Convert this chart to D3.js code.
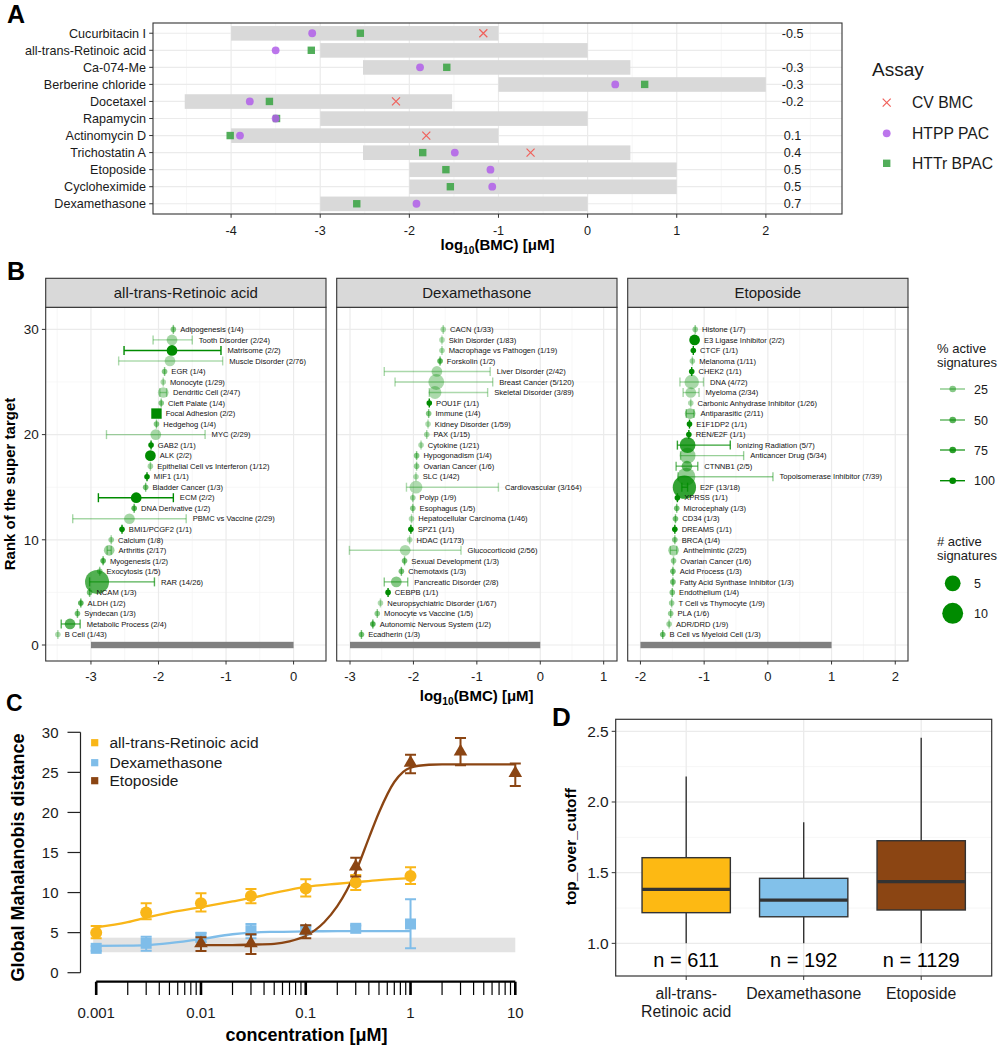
<!DOCTYPE html>
<html><head><meta charset="utf-8">
<script src="https://cdn.jsdelivr.net/npm/d3@7"></script>
<style>body{margin:0;background:#fff}svg{display:block}text{font-family:"Liberation Sans",Arial,sans-serif}</style>
</head><body><svg id="c" width="1002" height="1050"></svg>
<script>
// ---------------- DATA ----------------
// Panel A
const aCompounds = ["Cucurbitacin I","all-trans-Retinoic acid","Ca-074-Me","Berberine chloride","Docetaxel","Rapamycin","Actinomycin D","Trichostatin A","Etoposide","Cycloheximide","Dexamethasone"];
const aRangeLo = [-4,-3,-2.52,-1,-4.52,-3,-4,-2.52,-2,-2,-3];
const aRangeHi = [-1,0,0.48,2,-1.52,0,-1,0.48,1,1,0];
const aCV   = [-1.17,null,null,null,-2.15,null,-1.81,-0.64,null,null,null];
const aHTPP = [-3.09,-3.50,-1.88,0.31,-3.79,-3.50,-3.90,-1.49,-1.09,-1.07,-1.92];
const aHTTr = [-2.55,-3.10,-1.58,0.64,-3.57,-3.49,-4.01,-1.85,-1.59,-1.54,-2.59];
const aCorr = ["-0.5","","-0.3","-0.3","-0.2","","0.1","0.4","0.5","0.5","0.7"];
const aAssays = ["CV BMC","HTPP PAC","HTTr BPAC"];
const aTicks = [-4,-3,-2,-1,0,1,2];

// Panel B
const bFacets = ["all-trans-Retinoic acid","Dexamethasone","Etoposide"];
const bRefLo = [-3,-3,-2];
const bRefHi = [0,0,1];
const atraTargets = ["Adipogenesis","Tooth Disorder","Matrisome","Muscle Disorder","EGR","Monocyte","Dendritic Cell","Cleft Palate","Focal Adhesion","Hedgehog","MYC","GAB2","ALK","Epithelial Cell vs Interferon","MIF1","Bladder Cancer","ECM","DNA Derivative","PBMC vs Vaccine","BMI1/PCGF2","Calcium","Arthritis","Myogenesis","Exocytosis","RAR","NCAM","ALDH","Syndecan","Metabolic Process","B Cell"];
const atraActive = [1,2,2,2,1,1,2,1,2,1,2,1,2,1,1,1,2,1,2,1,1,2,1,1,14,1,1,1,2,1];
const atraTotal  = [4,24,2,76,4,29,47,4,2,4,29,1,2,12,1,3,2,2,29,1,8,17,2,5,26,3,2,3,4,43];
const atraBMC = [-1.78,-1.80,-1.80,-1.83,-1.91,-1.93,-1.93,-1.96,-2.03,-2.03,-2.04,-2.11,-2.12,-2.12,-2.17,-2.19,-2.33,-2.36,-2.43,-2.54,-2.70,-2.73,-2.82,-2.87,-2.91,-3.02,-3.15,-3.20,-3.31,-3.49];
const atraLo  = [-1.78,-2.08,-2.51,-2.59,-1.91,-1.93,-1.98,-1.96,-2.03,-2.03,-2.77,-2.11,-2.12,-2.12,-2.17,-2.19,-2.89,-2.36,-3.27,-2.54,-2.70,-2.76,-2.82,-2.87,-3.02,-3.02,-3.15,-3.20,-3.44,-3.49];
const atraHi  = [-1.78,-1.50,-1.075,-1.05,-1.91,-1.93,-1.88,-1.96,-2.03,-2.03,-1.31,-2.11,-2.12,-2.12,-2.17,-2.19,-1.78,-2.36,-1.59,-2.54,-2.70,-2.70,-2.82,-2.87,-2.06,-3.02,-3.15,-3.20,-3.16,-3.49];
const atraSquare = ["Focal Adhesion"];

const dexTargets = ["CACN","Skin Disorder","Macrophage vs Pathogen","Forskolin","Liver Disorder","Breast Cancer","Skeletal Disorder","POU1F","Immune","Kidney Disorder","PAX","Cytokine","Hypogonadism","Ovarian Cancer","SLC","Cardiovascular","Polyp","Esophagus","Hepatocellular Carcinoma","SPZ1","HDAC","Glucocorticoid","Sexual Development","Chemotaxis","Pancreatic Disorder","CEBPB","Neuropsychiatric Disorder","Monocyte vs Vaccine","Autonomic Nervous System","Ecadherin"];
const dexActive = [1,1,1,1,2,5,3,1,1,1,1,1,1,1,1,3,1,1,1,1,1,2,1,1,2,1,1,1,1,1];
const dexTotal  = [33,83,19,2,42,120,89,1,4,59,15,21,4,6,42,164,9,5,46,1,173,56,3,3,8,1,67,5,2,3];
const dexBMC = [-1.53,-1.55,-1.55,-1.58,-1.63,-1.64,-1.66,-1.75,-1.76,-1.77,-1.79,-1.88,-1.95,-1.95,-1.96,-1.96,-2.01,-2.01,-2.03,-2.04,-2.06,-2.13,-2.14,-2.19,-2.27,-2.40,-2.52,-2.57,-2.64,-2.82];
const dexLo  = [-1.53,-1.55,-1.55,-1.58,-2.46,-2.29,-1.75,-1.75,-1.76,-1.77,-1.79,-1.88,-1.95,-1.95,-1.96,-2.11,-2.01,-2.01,-2.03,-2.04,-2.06,-3.01,-2.14,-2.19,-2.46,-2.40,-2.52,-2.57,-2.64,-2.82];
const dexHi  = [-1.53,-1.55,-1.55,-1.58,-0.79,-0.75,-0.83,-1.75,-1.76,-1.77,-1.79,-1.88,-1.95,-1.95,-1.96,-0.66,-2.01,-2.01,-2.03,-2.04,-2.06,-1.25,-2.14,-2.19,-2.09,-2.40,-2.52,-2.57,-2.64,-2.82];

const etoTargets = ["Histone","E3 Ligase Inhibitor","CTCF","Melanoma","CHEK2","DNA","Myeloma","Carbonic Anhydrase Inhibitor","Antiparasitic","E1F1DP2","REN/E2F","Ionizing Radiation","Anticancer Drug","CTNNB1","Topoisomerase Inhibitor","E2F","XPRSS","Microcephaly","CD34","DREAMS","BRCA","Anthelmintic","Ovarian Cancer","Acid Process","Fatty Acid Synthase Inhibitor","Endothelium","T Cell vs Thymocyte","PLA","ADR/DRD","B Cell vs Myeloid Cell"];
const etoActive = [1,2,1,1,1,4,2,1,2,1,1,5,5,2,7,13,1,1,1,1,1,2,1,1,1,1,1,1,1,1];
const etoTotal  = [7,2,1,11,1,72,34,26,11,1,1,7,34,5,39,18,1,3,3,1,4,25,6,3,3,4,9,6,9,3];
const etoBMC = [-1.14,-1.15,-1.17,-1.185,-1.195,-1.195,-1.21,-1.21,-1.22,-1.23,-1.24,-1.26,-1.26,-1.27,-1.28,-1.31,-1.42,-1.43,-1.45,-1.46,-1.46,-1.48,-1.48,-1.49,-1.49,-1.50,-1.51,-1.525,-1.55,-1.65];
const etoLo  = [-1.14,-1.15,-1.17,-1.185,-1.195,-1.38,-1.33,-1.21,-1.28,-1.23,-1.24,-1.42,-1.37,-1.44,-1.41,-1.35,-1.42,-1.43,-1.45,-1.46,-1.46,-1.53,-1.48,-1.49,-1.49,-1.50,-1.51,-1.525,-1.55,-1.65];
const etoHi  = [-1.14,-1.15,-1.17,-1.185,-1.195,-1.01,-1.08,-1.21,-1.16,-1.23,-1.24,-0.59,-0.38,-1.10,0.08,-1.26,-1.42,-1.43,-1.45,-1.46,-1.46,-1.43,-1.48,-1.49,-1.49,-1.50,-1.51,-1.525,-1.55,-1.65];
const bPctLegend = [25,50,75,100];
const bNLegend = [5,10];

// Panel C
const cSeries = ["all-trans-Retinoic acid","Dexamethasone","Etoposide"];
const cAtraConc = [0.001,0.003,0.01,0.03,0.1,0.3,1];
const cAtraMean = [5.0,7.5,8.67,9.58,10.5,11.25,12.08];
const cAtraLo   = [4.29,6.67,7.63,8.67,9.5,10.33,11.08];
const cAtraHi   = [5.83,8.67,9.92,10.46,11.67,12.2,13.17];
const cDexConc = [0.001,0.003,0.01,0.03,0.1,0.3,1];
const cDexMean = [3.04,3.67,4.42,5.24,5.33,5.54,6.08];
const cDexLo   = [2.75,2.75,3.83,4.29,4.9,5.2,3.04];
const cDexHi   = [3.3,4.5,4.95,6.08,5.8,5.9,9.16];
const cEtoConc = [0.01,0.03,0.1,0.3,1,3,10];
const cEtoMean = [3.67,3.67,5.24,13.23,26.2,27.6,24.9];
const cEtoLo   = [2.71,2.33,4.29,11.99,24.9,25.9,23.3];
const cEtoHi   = [4.42,4.79,5.91,14.36,27.2,29.3,26.1];
const cAtraFitConc = [0.001,0.002,0.003,0.005,0.01,0.02,0.03,0.05,0.1,0.2,0.3,0.5,1];
const cAtraFit     = [5.67,6.3,6.87,7.5,8.17,8.9,9.33,9.95,10.7,11.1,11.3,11.55,11.8];
const cDexFitConc = [0.001,0.002,0.003,0.005,0.01,0.02,0.03,0.05,0.1,0.2,0.3,0.5,1];
const cDexFit     = [3.35,3.38,3.45,3.7,4.2,4.8,5.0,5.1,5.15,5.2,5.2,5.2,5.2];
const cEtoFitConc = [0.01,0.02,0.03,0.05,0.07,0.1,0.15,0.2,0.3,0.4,0.5,0.7,1,1.5,2,3,5,10];
const cEtoFit     = [3.45,3.45,3.5,3.6,3.9,4.6,6.3,8.3,12.6,16.8,20.0,23.8,25.6,25.95,26,26,26,26];
const cBandLo = 2.55, cBandHi = 4.37;
const cYTicks = [0,5,10,15,20,25,30];
const cXLabels = [0.001,0.01,0.1,1,10];

// Panel D
const dCategories = ["all-trans-Retinoic acid","Dexamethasone","Etoposide"];
const dLabelLines = [["all-trans-","Retinoic acid"],["Dexamethasone"],["Etoposide"]];
const dWhiskerLo = [1.0,1.0,1.0];
const dQ1 = [1.217,1.188,1.236];
const dMedian = [1.382,1.306,1.436];
const dQ3 = [1.606,1.46,1.726];
const dWhiskerHi = [2.18,1.856,2.455];
const dN = [611,192,1129];
const dYTicks = [1.0,1.5,2.0,2.5];

// ---------------- DRAW ----------------
const svg = d3.select("#c");
const TXT = "#1a1a1a", AX = "#333", GRID = "#ebebeb", GRIDM = "#f4f4f4";

function panelLetter(t, x, y, size) {
  svg.append("text").attr("x", x).attr("y", y).attr("font-size", size).attr("font-weight", "bold").attr("fill", "#000").text(t);
}
function logTitle(g, x, y, size) {
  const t = g.append("text").attr("x", x).attr("y", y).attr("text-anchor", "middle")
    .attr("font-size", size).attr("font-weight", "bold").attr("fill", "#000");
  t.append("tspan").text("log");
  t.append("tspan").attr("font-size", size * 0.68).attr("dy", 4).text("10");
  t.append("tspan").attr("dy", -4).text("(BMC) [μM]");
}

// ===== Panel A =====
panelLetter("A", 7, 23, 25);
const gA = svg.append("g");
const aL = 153, aR = 842, aT = 23, aB = 214;
const aX = d3.scaleLinear().domain([-4.876, 2.854]).range([aL, aR]);
const aY = d3.scalePoint().domain(aCompounds).range([aT, aB]).padding(0.6);
gA.append("rect").attr("x", aL).attr("y", aT).attr("width", aR - aL).attr("height", aB - aT).attr("fill", "#fff");
gA.selectAll(".amin").data(d3.range(-4.5, 3, 1)).join("line")
  .attr("x1", d => aX(d)).attr("x2", d => aX(d)).attr("y1", aT).attr("y2", aB).attr("stroke", GRIDM).attr("stroke-width", 0.7);
gA.selectAll(".amaj").data(aTicks).join("line")
  .attr("x1", d => aX(d)).attr("x2", d => aX(d)).attr("y1", aT).attr("y2", aB).attr("stroke", GRID).attr("stroke-width", 1.2);
gA.selectAll(".arow").data(aCompounds).join("line")
  .attr("x1", aL).attr("x2", aR).attr("y1", d => aY(d)).attr("y2", d => aY(d)).attr("stroke", GRID).attr("stroke-width", 1.2);
gA.selectAll(".abar").data(aCompounds).join("rect")
  .attr("x", (d, i) => aX(aRangeLo[i])).attr("width", (d, i) => aX(aRangeHi[i]) - aX(aRangeLo[i]))
  .attr("y", d => aY(d) - 7.2).attr("height", 14.6).attr("fill", "#d9d9d9");
const colCV = "#f0605a", colHTPP = "#b05ee9", colHTTr = "#3fa548";
gA.selectAll(".asq").data(aCompounds).join("rect")
  .attr("x", (d, i) => aX(aHTTr[i]) - 3.7).attr("y", d => aY(d) - 3.7).attr("width", 7.4).attr("height", 7.4)
  .attr("fill", colHTTr).attr("fill-opacity", 0.9);
gA.selectAll(".aci").data(aCompounds).join("circle")
  .attr("cx", (d, i) => aX(aHTPP[i])).attr("cy", d => aY(d)).attr("r", 3.9)
  .attr("fill", colHTPP).attr("fill-opacity", 0.85);
aCompounds.forEach((c, i) => {
  if (aCV[i] == null) return;
  const x = aX(aCV[i]), y = aY(c), s = 4;
  gA.append("path").attr("d", `M${x - s},${y - s}L${x + s},${y + s}M${x - s},${y + s}L${x + s},${y - s}`)
    .attr("stroke", colCV).attr("stroke-width", 1.2).attr("fill", "none");
});
gA.selectAll(".acorr").data(aCompounds).join("text")
  .attr("x", aX(2.3)).attr("y", d => aY(d) + 4.5).attr("text-anchor", "middle")
  .attr("font-size", 12.6).attr("fill", TXT).text((d, i) => aCorr[i]);
gA.append("rect").attr("x", aL).attr("y", aT).attr("width", aR - aL).attr("height", aB - aT)
  .attr("fill", "none").attr("stroke", AX).attr("stroke-width", 1.1);
gA.selectAll(".ayt").data(aCompounds).join("line")
  .attr("x1", aL - 3.8).attr("x2", aL).attr("y1", d => aY(d)).attr("y2", d => aY(d)).attr("stroke", AX);
gA.selectAll(".ayl").data(aCompounds).join("text")
  .attr("x", aL - 7).attr("y", d => aY(d) + 4.4).attr("text-anchor", "end").attr("font-size", 12.6).attr("fill", TXT).text(d => d);
gA.selectAll(".axt").data(aTicks).join("line")
  .attr("x1", d => aX(d)).attr("x2", d => aX(d)).attr("y1", aB).attr("y2", aB + 3.8).attr("stroke", AX);
gA.selectAll(".axl").data(aTicks).join("text")
  .attr("x", d => aX(d)).attr("y", 234.5).attr("text-anchor", "middle").attr("font-size", 12.6).attr("fill", TXT).text(d => d);
logTitle(gA, (aL + aR) / 2, 250, 15);
gA.append("text").attr("x", 872).attr("y", 76).attr("font-size", 19).attr("fill", TXT).text("Assay");
const aLegY = [102.7, 133.3, 163.3];
aAssays.forEach((a, i) => {
  const y = aLegY[i], x = 886.7;
  if (i === 0) gA.append("path").attr("d", `M${x - 4},${y - 4}L${x + 4},${y + 4}M${x - 4},${y + 4}L${x + 4},${y - 4}`).attr("stroke", colCV).attr("stroke-width", 1.2);
  if (i === 1) gA.append("circle").attr("cx", x).attr("cy", y).attr("r", 3.9).attr("fill", colHTPP).attr("fill-opacity", 0.85);
  if (i === 2) gA.append("rect").attr("x", x - 3.7).attr("y", y - 3.7).attr("width", 7.4).attr("height", 7.4).attr("fill", colHTTr).attr("fill-opacity", 0.9);
  gA.append("text").attr("x", 912).attr("y", y + 5.6).attr("font-size", 15.7).attr("fill", TXT).text(a);
});

// ===== Panel B =====
panelLetter("B", 7, 280, 25);
const gB = svg.append("g");
const bTop = 307.3, bBot = 661, sTop = 278.3;
const bLefts = [45.7, 336.7, 627.7], bW = 280.3;
const bDomains = [[-3.67, 0.48], [-3.21, 1.21], [-2.2, 2.2]];
const bY = d3.scaleLinear().domain([-1.52, 32.1]).range([bBot, bTop]);
const GREEN = "#008B00";
const sizeScale = d3.scaleLinear().domain([0, 1]).range([2.8, 12]);
const rOf = n => sizeScale(Math.sqrt((n - 1) / 13));
const alphaScale = d3.scaleLinear().domain([0, 1]).range([0.3, 1]);
const bSets = [
  {t: atraTargets, a: atraActive, n: atraTotal, x: atraBMC, lo: atraLo, hi: atraHi},
  {t: dexTargets, a: dexActive, n: dexTotal, x: dexBMC, lo: dexLo, hi: dexHi},
  {t: etoTargets, a: etoActive, n: etoTotal, x: etoBMC, lo: etoLo, hi: etoHi}
];
bFacets.forEach((f, k) => {
  const L = bLefts[k], R = L + bW;
  const x = d3.scaleLinear().domain(bDomains[k]).range([L, R]);
  const g = gB.append("g");
  g.append("rect").attr("x", L).attr("y", bTop).attr("width", bW).attr("height", bBot - bTop).attr("fill", "#fff");
  const dom = bDomains[k];
  const majX = d3.range(Math.ceil(dom[0]), Math.floor(dom[1]) + 1);
  const minX = d3.range(Math.ceil(dom[0] - 0.5) + 0.5, dom[1], 1);
  g.selectAll(".mnx").data(minX).join("line").attr("x1", d => x(d)).attr("x2", d => x(d)).attr("y1", bTop).attr("y2", bBot).attr("stroke", GRIDM).attr("stroke-width", 0.7);
  g.selectAll(".mny").data([5, 15, 25]).join("line").attr("x1", L).attr("x2", R).attr("y1", d => bY(d)).attr("y2", d => bY(d)).attr("stroke", GRIDM).attr("stroke-width", 0.7);
  g.selectAll(".mjx").data(majX).join("line").attr("x1", d => x(d)).attr("x2", d => x(d)).attr("y1", bTop).attr("y2", bBot).attr("stroke", GRID).attr("stroke-width", 1.2);
  g.selectAll(".mjy").data([0, 10, 20, 30]).join("line").attr("x1", L).attr("x2", R).attr("y1", d => bY(d)).attr("y2", d => bY(d)).attr("stroke", GRID).attr("stroke-width", 1.2);
  g.append("rect").attr("x", x(bRefLo[k])).attr("width", x(bRefHi[k]) - x(bRefLo[k]))
    .attr("y", bY(0) - 3.2).attr("height", 6.4).attr("fill", "#808080");
  const s = bSets[k];
  const N = s.t.length;
  s.t.forEach((name, i) => {
    const rank = N - i;
    const y = bY(rank);
    const frac = s.a[i] / s.n[i];
    const al = alphaScale(frac);
    const xp = x(s.x[i]), xl = x(s.lo[i]), xh = x(s.hi[i]);
    const r = rOf(s.a[i]);
    const eg = g.append("g").attr("stroke", GREEN).attr("stroke-opacity", al).attr("stroke-width", 1.4);
    if (xh - xl > 0.5) eg.append("line").attr("x1", xl).attr("x2", xh).attr("y1", y).attr("y2", y);
    eg.append("line").attr("x1", xl).attr("x2", xl).attr("y1", y - 4.5).attr("y2", y + 4.5);
    if (xh - xl > 0.5) eg.append("line").attr("x1", xh).attr("x2", xh).attr("y1", y - 4.5).attr("y2", y + 4.5);
    const isSq = k === 0 && atraSquare.includes(name);
    if (isSq) {
      g.append("rect").attr("x", xp - 5.2).attr("y", y - 5.2).attr("width", 10.4).attr("height", 10.4).attr("fill", GREEN).attr("fill-opacity", al);
    } else {
      g.append("circle").attr("cx", xp).attr("cy", y).attr("r", r).attr("fill", GREEN).attr("fill-opacity", al);
    }
    const lx = Math.max(xh + 6.5, xp + (isSq ? 5.2 : r) + 4);
    g.append("text").attr("x", lx).attr("y", y + 2.7).attr("font-size", 7.6).attr("fill", "#111")
      .text(`${name} (${s.a[i]}/${s.n[i]})`);
  });
  g.append("rect").attr("x", L).attr("y", bTop).attr("width", bW).attr("height", bBot - bTop).attr("fill", "none").attr("stroke", AX).attr("stroke-width", 1.1);
  g.append("rect").attr("x", L).attr("y", sTop).attr("width", bW).attr("height", bTop - sTop).attr("fill", "#d9d9d9").attr("stroke", AX).attr("stroke-width", 1.1);
  g.append("text").attr("x", L + bW / 2).attr("y", (sTop + bTop) / 2 + 5.3).attr("text-anchor", "middle").attr("font-size", 15).attr("fill", TXT).text(f);
  g.selectAll(".xt").data(majX).join("line").attr("x1", d => x(d)).attr("x2", d => x(d)).attr("y1", bBot).attr("y2", bBot + 3.5).attr("stroke", AX);
  g.selectAll(".xl").data(majX).join("text").attr("x", d => x(d)).attr("y", 681.3).attr("text-anchor", "middle").attr("font-size", 13).attr("fill", TXT).text(d => d);
  if (k === 0) {
    g.selectAll(".yt").data([0, 10, 20, 30]).join("line").attr("x1", L - 3.8).attr("x2", L).attr("y1", d => bY(d)).attr("y2", d => bY(d)).attr("stroke", AX);
    g.selectAll(".yl").data([0, 10, 20, 30]).join("text").attr("x", L - 7).attr("y", d => bY(d) + 4.8).attr("text-anchor", "end").attr("font-size", 13.5).attr("fill", TXT).text(d => d);
  }
});
gB.append("text").attr("transform", "translate(15,484) rotate(-90)").attr("text-anchor", "middle")
  .attr("font-size", 15).attr("font-weight", "bold").attr("fill", "#000").text("Rank of the super target");
logTitle(gB, 476.7, 701, 15);
const lg = gB.append("g");
lg.append("text").attr("x", 937).attr("y", 352.8).attr("font-size", 13).attr("fill", TXT).text("% active");
lg.append("text").attr("x", 937).attr("y", 366.5).attr("font-size", 13).attr("fill", TXT).text("signatures");
const pctY = [389, 420, 450, 480.7];
bPctLegend.forEach((p, i) => {
  const al = alphaScale(p / 100);
  lg.append("line").attr("x1", 940).attr("x2", 965).attr("y1", pctY[i]).attr("y2", pctY[i]).attr("stroke", GREEN).attr("stroke-opacity", al).attr("stroke-width", 1.4);
  lg.append("circle").attr("cx", 952.7).attr("cy", pctY[i]).attr("r", 3.3).attr("fill", GREEN).attr("fill-opacity", al);
  lg.append("text").attr("x", 974).attr("y", pctY[i] + 4.5).attr("font-size", 12.5).attr("fill", TXT).text(p);
});
lg.append("text").attr("x", 937).attr("y", 546.3).attr("font-size", 13).attr("fill", TXT).text("# active");
lg.append("text").attr("x", 937).attr("y", 560).attr("font-size", 13).attr("fill", TXT).text("signatures");
const nY = [583.3, 613.3];
bNLegend.forEach((n, i) => {
  lg.append("circle").attr("cx", 952.7).attr("cy", nY[i]).attr("r", rOf(n)).attr("fill", GREEN);
  lg.append("text").attr("x", 974).attr("y", nY[i] + 4.5).attr("font-size", 12.5).attr("fill", TXT).text(n);
});

// ===== Panel C =====
panelLetter("C", 6, 711, 23);
const gC = svg.append("g");
const cX = d3.scaleLog().domain([0.001, 10]).range([96.2, 515.3]);
const cY = d3.scaleLinear().domain([0, 30]).range([972.7, 732.3]);
const cCol = ["#f9b618", "#7fbde9", "#8b4513"];
gC.append("rect").attr("x", cX(0.001) - 3).attr("width", cX(10) - cX(0.001) + 3)
  .attr("y", cY(cBandHi)).attr("height", cY(cBandLo) - cY(cBandHi)).attr("fill", "#e3e3e3");
gC.append("line").attr("x1", 80.5).attr("x2", 80.5).attr("y1", cY(0)).attr("y2", cY(30)).attr("stroke", "#222").attr("stroke-width", 1.2);
gC.selectAll(".cyt").data(cYTicks).join("line").attr("x1", 67.5).attr("x2", 80.5).attr("y1", d => cY(d)).attr("y2", d => cY(d)).attr("stroke", "#222").attr("stroke-width", 1.2);
gC.selectAll(".cyl").data(cYTicks).join("text").attr("x", 58.5).attr("y", d => cY(d) + 5.3).attr("text-anchor", "end").attr("font-size", 15).attr("fill", TXT).text(d => d);
gC.append("text").attr("transform", "translate(23.5,857.5) rotate(-90)").attr("text-anchor", "middle")
  .attr("font-size", 18).attr("font-weight", "bold").attr("fill", "#000").text("Global Mahalanobis distance");
const cAxY = 981.7;
gC.append("line").attr("x1", cX(0.001)).attr("x2", cX(10)).attr("y1", cAxY).attr("y2", cAxY).attr("stroke", "#000").attr("stroke-width", 2.2);
gC.selectAll(".cxt").data(cX.ticks()).join("line").attr("x1", d => cX(d)).attr("x2", d => cX(d)).attr("y1", cAxY).attr("y2", 995)
  .attr("stroke", "#000").attr("stroke-width", d => cXLabels.includes(d) ? 2.6 : 1.2);
gC.selectAll(".cxl").data(cXLabels).join("text").attr("x", d => cX(d)).attr("y", 1017.5).attr("text-anchor", "middle").attr("font-size", 15).attr("fill", TXT).text(d => String(d));
gC.append("text").attr("x", 306.5).attr("y", 1040.5).attr("text-anchor", "middle").attr("font-size", 18).attr("font-weight", "bold").attr("fill", "#000").text("concentration [μM]");
const cLine = d3.line().x(d => cX(d[0])).y(d => cY(d[1])).curve(d3.curveMonotoneX);
const cFits = [[cAtraFitConc, cAtraFit], [cDexFitConc, cDexFit], [cEtoFitConc, cEtoFit]];
const cPts = [[cAtraConc, cAtraMean, cAtraLo, cAtraHi], [cDexConc, cDexMean, cDexLo, cDexHi], [cEtoConc, cEtoMean, cEtoLo, cEtoHi]];
cSeries.forEach((s, k) => {
  const [fx, fy] = cFits[k];
  gC.append("path").datum(fx.map((c, i) => [c, fy[i]])).attr("d", cLine).attr("fill", "none").attr("stroke", cCol[k]).attr("stroke-width", 2.3);
});
cSeries.forEach((s, k) => {
  const [cc, m, lo, hi] = cPts[k];
  const g = gC.append("g");
  cc.forEach((c, i) => {
    const x = cX(c);
    g.append("path").attr("d", `M${x},${cY(lo[i])}V${cY(hi[i])}M${x - 5.5},${cY(lo[i])}H${x + 5.5}M${x - 5.5},${cY(hi[i])}H${x + 5.5}`)
      .attr("stroke", cCol[k]).attr("stroke-width", 2).attr("fill", "none");
    const y = cY(m[i]);
    if (k === 0) g.append("circle").attr("cx", x).attr("cy", y).attr("r", 6).attr("fill", cCol[k]);
    if (k === 1) g.append("rect").attr("x", x - 5.5).attr("y", y - 5.5).attr("width", 11).attr("height", 11).attr("fill", cCol[k]);
    if (k === 2) g.append("path").attr("transform", `translate(${x},${y})`).attr("d", d3.symbol(d3.symbolTriangle, 80)()).attr("fill", cCol[k]);
  });
});
const cLegY = [742.7, 762.7, 780.7];
cSeries.forEach((s, k) => {
  gC.append("rect").attr("x", 94.7 - 3.6).attr("y", cLegY[k] - 3.6).attr("width", 7.2).attr("height", 7.2).attr("fill", cCol[k]);
  gC.append("text").attr("x", 109.5).attr("y", cLegY[k] + 5.5).attr("font-size", 15.5).attr("fill", TXT).text(s);
});

// ===== Panel D =====
panelLetter("D", 552, 726, 26);
const gD = svg.append("g");
const dL = 615.7, dR = 991.7, dT = 719.3, dB = 976;
const dX = d3.scalePoint().domain(dCategories).range([dL, dR]).padding(0.6);
const dY = d3.scaleLinear().domain([0.769, 2.585]).range([dB, dT]);
const dCol = ["#fdb913", "#82c1ea", "#8b4513"];
gD.append("rect").attr("x", dL).attr("y", dT).attr("width", dR - dL).attr("height", dB - dT).attr("fill", "#fff");
gD.selectAll(".dmn").data([1.25, 1.75, 2.25]).join("line").attr("x1", dL).attr("x2", dR).attr("y1", d => dY(d)).attr("y2", d => dY(d)).attr("stroke", GRIDM).attr("stroke-width", 0.8);
gD.selectAll(".dmj").data(dYTicks).join("line").attr("x1", dL).attr("x2", dR).attr("y1", d => dY(d)).attr("y2", d => dY(d)).attr("stroke", GRID).attr("stroke-width", 1.3);
gD.selectAll(".dvx").data(dCategories).join("line").attr("x1", d => dX(d)).attr("x2", d => dX(d)).attr("y1", dT).attr("y2", dB).attr("stroke", GRID).attr("stroke-width", 1.3);
const bw = 88.3;
dCategories.forEach((c, i) => {
  const x = dX(c);
  gD.append("line").attr("x1", x).attr("x2", x).attr("y1", dY(dWhiskerHi[i])).attr("y2", dY(dQ3[i])).attr("stroke", AX).attr("stroke-width", 1.4);
  gD.append("line").attr("x1", x).attr("x2", x).attr("y1", dY(dQ1[i])).attr("y2", dY(dWhiskerLo[i])).attr("stroke", AX).attr("stroke-width", 1.4);
  gD.append("rect").attr("x", x - bw / 2).attr("width", bw).attr("y", dY(dQ3[i])).attr("height", dY(dQ1[i]) - dY(dQ3[i]))
    .attr("fill", dCol[i]).attr("stroke", AX).attr("stroke-width", 1.4);
  gD.append("line").attr("x1", x - bw / 2).attr("x2", x + bw / 2).attr("y1", dY(dMedian[i])).attr("y2", dY(dMedian[i])).attr("stroke", AX).attr("stroke-width", 3.2);
  gD.append("text").attr("x", x).attr("y", 966.5).attr("text-anchor", "middle").attr("font-size", 20).attr("fill", "#000").text(`n = ${dN[i]}`);
  dLabelLines[i].forEach((ln, j) => {
    gD.append("text").attr("x", x).attr("y", 999 + j * 17.5).attr("text-anchor", "middle").attr("font-size", 15.8).attr("fill", TXT).text(ln);
  });
});
gD.append("rect").attr("x", dL).attr("y", dT).attr("width", dR - dL).attr("height", dB - dT).attr("fill", "none").attr("stroke", AX).attr("stroke-width", 1.2);
gD.selectAll(".dxt").data(dCategories).join("line").attr("x1", d => dX(d)).attr("x2", d => dX(d)).attr("y1", dB).attr("y2", dB + 4).attr("stroke", AX);
gD.selectAll(".dyt").data(dYTicks).join("line").attr("x1", dL - 4).attr("x2", dL).attr("y1", d => dY(d)).attr("y2", d => dY(d)).attr("stroke", AX);
gD.selectAll(".dyl").data(dYTicks).join("text").attr("x", dL - 7).attr("y", d => dY(d) + 5.5).attr("text-anchor", "end").attr("font-size", 15.5).attr("fill", TXT).text(d => d.toFixed(1));
gD.append("text").attr("transform", "translate(575.5,846.7) rotate(-90)").attr("text-anchor", "middle")
  .attr("font-size", 15.5).attr("font-weight", "bold").attr("fill", "#000").text("top_over_cutoff");
</script></body></html>
